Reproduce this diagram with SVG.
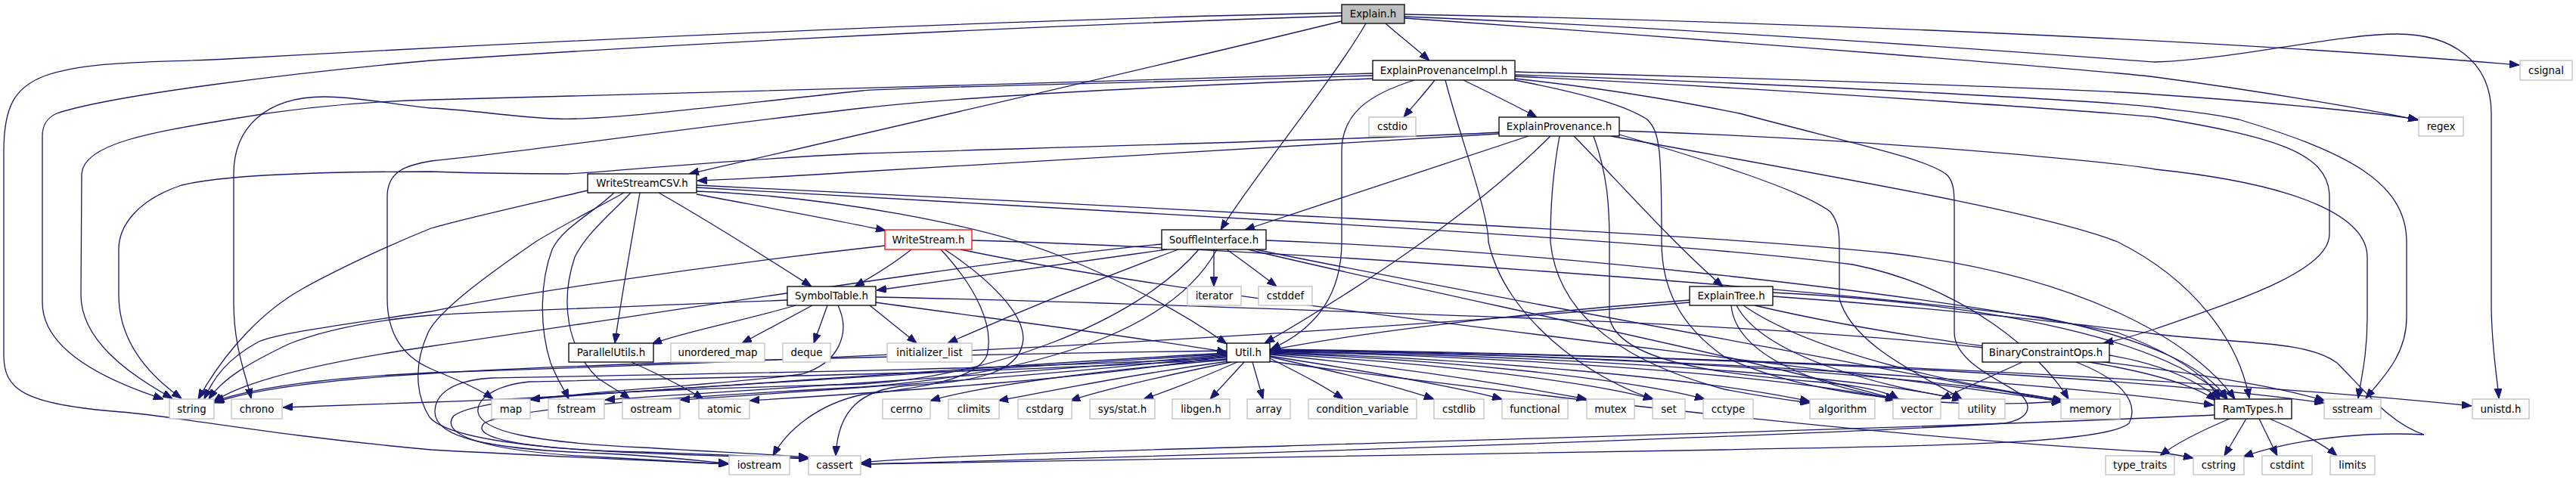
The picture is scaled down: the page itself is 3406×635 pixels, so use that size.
<svg xmlns="http://www.w3.org/2000/svg" width="3406" height="635" viewBox="0 0 3406 635">
<style>
.e path{fill:none;stroke:#191970;stroke-width:1.3;marker-end:url(#ah)}
.n rect{fill:#fff;stroke:#000;stroke-width:1.3}
.s rect{fill:#fff;stroke:#bfbfbf;stroke-width:1.3}
.r rect{fill:#fff;stroke:#ff0000;stroke-width:1.3}
.g rect{fill:#bfbfbf;stroke:#000;stroke-width:1.3}
text{font-family:"DejaVu Sans","Liberation Sans",sans-serif;font-size:13.33px;text-anchor:middle;fill:#000}
</style>
<defs>
<marker id="ah" viewBox="0 0 13 10" refX="13" refY="5" markerWidth="13" markerHeight="10" markerUnits="userSpaceOnUse" orient="auto"><path d="M0,0L13,5L0,10z" fill="#191970" stroke="#191970" stroke-width="1"/></marker>
</defs>
<rect width="3406" height="635" fill="#fff"/>
<g id="edges" class="e">
<path d="M1832,31 C1850,47 1872,64 1890,80"/>
<path d="M1806,31 C1760,110 1660,230 1614,304"/>
<path d="M1774,28 C1500,95 1150,175 911,230"/>
<path d="M1774,17 C1400,24 800,50 300,78 C200,83 120,80 60,100 C20,115 5,140 5,200 L5,470 C5,515 30,535 160,545 C230,550 350,575 570,595 C750,605 900,611 963,614"/>
<path d="M1774,21 C1500,30 1100,45 570,80 C400,95 150,125 75,150 C62,156 56,165 56,180 L56,400 C56,460 130,500 216,528"/>
<path d="M1857,19 C2300,27 2900,50 3331,86"/>
<path d="M1857,22 C2300,40 2750,75 2850,82 C2960,78 3090,45 3170,45 C3240,45 3294,80 3294,150 L3294,400 C3294,460 3302,500 3304,527"/>
<path d="M1857,24 C2300,55 2800,95 2850,102 C3000,122 3150,148 3197,159"/>
<path d="M1897,106 C1885,122 1870,138 1856,155"/>
<path d="M1935,106 C1970,123 2005,140 2032,155"/>
<path d="M1815,97 C1500,105 900,125 570,132 C450,135 350,150 309,157 C200,175 110,190 108,230 L107,390 C107,450 170,495 228,527"/>
<path d="M1815,100 C1500,110 1200,115 1140,120 C950,140 800,160 734,157 C680,155 620,145 570,143 C520,138 470,128 429,128 C350,128 309,170 309,230 L309,400 C309,460 325,495 332,527"/>
<path d="M1815,104 C1500,115 1250,130 1140,143 C900,170 700,200 570,213 C540,218 512,225 512,260 L512,395 C512,450 540,475 570,488 C610,505 635,515 652,528"/>
<path d="M2003,95 C2400,105 2800,120 2850,125 C3000,135 3150,150 3197,158"/>
<path d="M2003,99 C2400,112 2800,135 2850,142 C2900,148 2920,150 2960,158 C3100,200 3182,240 3182,320 L3182,420 C3182,470 3150,500 3128,527"/>
<path d="M2003,101 C2400,120 2800,150 2850,155 C3000,180 3080,200 3080,260 L3080,310 C3080,360 2950,400 2850,435 C2820,445 2800,450 2781,454"/>
<path d="M2003,104 C2150,120 2250,140 2300,150 C2450,190 2550,210 2575,232 C2584,242 2584,255 2584,280 L2584,440 C2584,480 2650,505 2672,522 C2690,540 2680,555 2650,560 C2400,575 1700,600 1139,614"/>
<path d="M2003,106 C2100,125 2150,140 2178,158 C2195,175 2197,200 2197,320 C2197,380 2220,430 2280,472 C2400,530 2600,540 2726,531"/>
<path d="M1870,106 C1810,125 1774,150 1774,200 L1774,320 C1774,400 1730,440 1680,462"/>
<path d="M1911,106 C1930,180 1968,280 1968,320 C1990,420 2100,500 2186,528"/>
<path d="M1982,177 C1850,184 1500,205 1140,227 C1000,236 950,238 922,239"/>
<path d="M1982,175 C1850,183 1400,195 1140,203 C950,212 800,228 750,230 C650,230 600,228 570,227 C450,227 300,230 240,245 C180,265 157,300 157,330 L157,390 C157,450 195,495 240,527"/>
<path d="M2021,180 C1900,220 1750,270 1646,304"/>
<path d="M2050,180 C1950,280 1800,380 1672,454"/>
<path d="M2081,180 C2140,240 2210,320 2278,379"/>
<path d="M2141,173 C2500,185 2800,215 2850,224 C3050,245 3130,290 3130,340 L3130,420 C3130,470 3122,500 3118,527"/>
<path d="M2130,180 C2400,230 2700,280 2800,320 C2900,370 2960,450 2974,527"/>
<path d="M2141,178 C2250,210 2380,250 2420,280 C2432,295 2432,310 2432,330 L2432,395 C2450,460 2550,500 2594,528"/>
<path d="M2062,180 C2055,220 2050,260 2050,320 C2060,420 2150,480 2280,515 C2330,525 2370,530 2393,533"/>
<path d="M2107,180 C2125,230 2128,270 2128,320 L2128,420 C2140,480 2280,495 2400,505 C2460,510 2495,518 2510,528"/>
<path d="M921,257 C1000,272 1100,290 1171,305"/>
<path d="M871,255 C950,300 1020,345 1073,379"/>
<path d="M846,255 C835,320 822,390 813,454"/>
<path d="M777,252 C700,270 610,290 570,302 C500,330 430,365 400,382 C350,410 300,460 262,528"/>
<path d="M825,255 C780,280 740,300 708,320 C650,360 580,410 566,440 C548,480 548,520 568,552 C610,600 900,600 1069,607"/>
<path d="M812,255 C780,285 745,300 730,330 C715,370 712,430 728,480 C738,505 746,515 752,528"/>
<path d="M834,255 C800,290 775,310 760,340 C740,400 750,460 790,500 C808,512 822,520 833,528"/>
<path d="M921,253 C1100,260 1300,298 1400,338 C1500,378 1570,418 1622,455"/>
<path d="M921,245 C1100,252 1500,275 1710,285 C2000,300 2300,315 2500,335 C2750,365 2900,450 2955,528"/>
<path d="M921,248 C1100,257 1500,282 1710,293 C2000,310 2300,330 2450,350 C2600,380 2700,470 2735,528"/>
<path d="M1205,330 C1180,350 1155,365 1130,379"/>
<path d="M1170,325 C900,355 650,395 570,412 C450,430 370,440 342,452 C300,475 282,500 270,528"/>
<path d="M1244,330 C1290,380 1315,430 1305,470 C1290,505 1200,515 1140,522 C1080,535 1040,570 1022,603"/>
<path d="M1249,330 C1310,370 1360,420 1352,455 C1345,490 1300,505 1200,510 C1140,515 1108,540 1105,603"/>
<path d="M1285,318 C1700,330 2400,380 2700,420 C2850,450 2920,490 2945,528"/>
<path d="M1270,330 C1600,400 2300,470 2727,531"/>
<path d="M1605,330 L1605,379"/>
<path d="M1622,330 C1650,350 1670,365 1688,379"/>
<path d="M1558,330 C1450,370 1330,420 1253,454"/>
<path d="M1543,330 C1400,350 1250,372 1159,384"/>
<path d="M1536,323 C1300,345 900,410 570,458 C420,480 320,505 282,532"/>
<path d="M1585,330 C1500,430 1300,500 1140,508 C900,515 640,520 600,550 C580,575 640,598 800,605 C880,609 930,612 963,614"/>
<path d="M1609,330 C1560,420 1420,490 1140,512 C900,525 670,540 640,560 C620,580 700,595 850,598 C950,602 1020,604 1069,606"/>
<path d="M1674,318 C2000,330 2500,380 2800,440 C2880,470 2920,500 2935,528"/>
<path d="M1660,330 C1900,380 2400,470 2726,532"/>
<path d="M1650,330 C1900,390 2300,470 2506,528"/>
<path d="M1052,404 C980,425 900,440 862,455"/>
<path d="M1074,404 L981,454"/>
<path d="M1094,404 L1076,454"/>
<path d="M1150,404 L1212,454"/>
<path d="M1041,397 C850,405 650,412 570,417 C480,425 420,440 382,455 C330,480 295,500 276,528"/>
<path d="M1158,400 C1300,420 1500,445 1622,466"/>
<path d="M1158,393 C1500,400 1700,410 2000,420 C2500,440 2850,470 2930,530"/>
<path d="M1108,404 C1125,440 1110,480 1060,495 C950,510 800,515 701,529"/>
<path d="M835,479 C870,495 905,512 930,528"/>
<path d="M2234,397 C2000,415 1800,440 1680,463"/>
<path d="M2234,400 C1900,430 1300,470 570,493 C420,500 330,515 283,531"/>
<path d="M2289,404 C2295,470 2400,510 2508,528"/>
<path d="M2296,404 C2330,470 2480,510 2594,528"/>
<path d="M2305,404 C2400,470 2600,510 2728,530"/>
<path d="M2320,404 C2600,470 2900,480 3074,530"/>
<path d="M2344,387 C2600,400 2850,440 2945,528"/>
<path d="M2344,392 C2600,410 2800,435 2850,442 C2960,455 3050,450 3090,480 C3130,520 3160,560 3205,575 C3150,572 3050,575 2966,604"/>
<path d="M2674,479 L2566,528"/>
<path d="M2789,470 C2850,480 2900,500 2935,528"/>
<path d="M2745,479 C2800,500 2830,530 2815,560 C2780,590 2500,590 2280,595 C1800,605 1400,610 1139,614"/>
<path d="M2948,554 C2910,570 2875,588 2856,603"/>
<path d="M2970,554 L2941,603"/>
<path d="M2987,554 L3011,603"/>
<path d="M3001,554 C3040,570 3075,590 3090,603"/>
<path d="M2928,549 C2600,565 2000,580 1700,590 C1400,598 1200,605 1139,612"/>
<path d="M1622,476 C1450,490 1300,510 1230,530"/>
<path d="M1624,478 C1500,495 1400,515 1320,530"/>
<path d="M1628,479 C1540,497 1460,515 1415,530"/>
<path d="M1636,479 C1600,495 1550,515 1512,528"/>
<path d="M1645,479 L1600,528"/>
<path d="M1656,479 L1670,528"/>
<path d="M1679,474 C1720,495 1750,510 1776,528"/>
<path d="M1679,472 C1780,495 1850,512 1896,528"/>
<path d="M1679,471 C1800,490 1920,510 1986,528"/>
<path d="M1679,469 C1850,485 2000,510 2098,528"/>
<path d="M1679,468 C1900,480 2100,505 2186,528"/>
<path d="M1679,467 C1900,475 2150,500 2254,528"/>
<path d="M1679,466 C1950,475 2250,500 2393,531"/>
<path d="M1679,465 C2000,472 2350,495 2506,529"/>
<path d="M1679,465 C2050,470 2450,495 2594,529"/>
<path d="M1679,464 C2100,468 2550,495 2727,530"/>
<path d="M1679,463 C2200,470 2700,505 2927,536"/>
<path d="M1679,463 C2250,470 2800,495 3073,533"/>
<path d="M1679,462 C2300,470 2900,500 3268,537"/>
<path d="M1679,478 C2000,520 2500,580 2850,598 C2870,600 2880,602 2900,606"/>
<path d="M1622,464 C1200,470 800,480 570,494 C420,503 330,516 283,533"/>
<path d="M1622,467 C1200,490 800,525 570,532 C480,535 420,537 374,539"/>
<path d="M1622,468 C1300,490 900,512 701,528"/>
<path d="M1622,469 C1350,495 1000,515 800,529"/>
<path d="M1622,470 C1400,497 1100,515 899,529"/>
<path d="M1622,471 C1450,500 1200,517 991,530"/>
<path d="M1622,473 C1300,490 900,495 650,500 C600,503 575,520 575,545 C575,580 650,595 800,600 C880,604 930,610 963,613"/>
<path d="M1622,475 C1300,495 900,500 700,505 C650,510 630,530 632,545 C636,570 700,585 850,592 C950,598 1020,601 1069,605"/>
</g>
<g id="n_explain" class="g"><rect x="1774" y="6" width="83" height="25"/><text x="1815.5" y="23">Explain.h</text></g>
<g id="n_explainprovenanceimpl" class="n"><rect x="1815" y="80" width="188" height="26"/><text x="1909" y="97.5">ExplainProvenanceImpl.h</text></g>
<g id="n_csignal" class="s"><rect x="3332" y="80" width="69" height="26"/><text x="3366.5" y="97.5">csignal</text></g>
<g id="n_cstdio" class="s"><rect x="1810" y="155" width="62" height="25"/><text x="1841" y="172">cstdio</text></g>
<g id="n_explainprovenance" class="n"><rect x="1982" y="155" width="159" height="25"/><text x="2061.5" y="172">ExplainProvenance.h</text></g>
<g id="n_regex" class="s"><rect x="3198" y="155" width="59" height="25"/><text x="3227.5" y="172">regex</text></g>
<g id="n_writestreamcsv" class="n"><rect x="777" y="230" width="144" height="25"/><text x="849" y="247">WriteStreamCSV.h</text></g>
<g id="n_writestream" class="r"><rect x="1170" y="304" width="115" height="26"/><text x="1227.5" y="321.5">WriteStream.h</text></g>
<g id="n_souffleinterface" class="n"><rect x="1536" y="304" width="138" height="26"/><text x="1605" y="321.5">SouffleInterface.h</text></g>
<g id="n_symboltable" class="n"><rect x="1041" y="379" width="117" height="25"/><text x="1099.5" y="396">SymbolTable.h</text></g>
<g id="n_iterator" class="s"><rect x="1570" y="379" width="71" height="25"/><text x="1605.5" y="396">iterator</text></g>
<g id="n_cstddef" class="s"><rect x="1664" y="379" width="71" height="25"/><text x="1699.5" y="396">cstddef</text></g>
<g id="n_explaintree" class="n"><rect x="2234" y="379" width="110" height="25"/><text x="2289" y="396">ExplainTree.h</text></g>
<g id="n_parallelutils" class="n"><rect x="752" y="454" width="112" height="25"/><text x="808" y="471">ParallelUtils.h</text></g>
<g id="n_unordered_map" class="s"><rect x="887" y="454" width="124" height="25"/><text x="949" y="471">unordered_map</text></g>
<g id="n_deque" class="s"><rect x="1035" y="454" width="63" height="25"/><text x="1066.5" y="471">deque</text></g>
<g id="n_initializer_list" class="s"><rect x="1173" y="454" width="112" height="25"/><text x="1229" y="471">initializer_list</text></g>
<g id="n_util" class="n"><rect x="1622" y="454" width="57" height="25"/><text x="1650.5" y="471">Util.h</text></g>
<g id="n_binaryconstraintops" class="n"><rect x="2621" y="454" width="168" height="25"/><text x="2705" y="471">BinaryConstraintOps.h</text></g>
<g id="n_string" class="s"><rect x="224" y="528" width="59" height="26"/><text x="253.5" y="545.5">string</text></g>
<g id="n_chrono" class="s"><rect x="306" y="528" width="67" height="26"/><text x="339.5" y="545.5">chrono</text></g>
<g id="n_map" class="s"><rect x="650" y="528" width="51" height="26"/><text x="675.5" y="545.5">map</text></g>
<g id="n_fstream" class="s"><rect x="725" y="528" width="74" height="26"/><text x="762" y="545.5">fstream</text></g>
<g id="n_ostream" class="s"><rect x="823" y="528" width="76" height="26"/><text x="861" y="545.5">ostream</text></g>
<g id="n_atomic" class="s"><rect x="924" y="528" width="67" height="26"/><text x="957.5" y="545.5">atomic</text></g>
<g id="n_cerrno" class="s"><rect x="1167" y="528" width="63" height="26"/><text x="1198.5" y="545.5">cerrno</text></g>
<g id="n_climits" class="s"><rect x="1254" y="528" width="67" height="26"/><text x="1287.5" y="545.5">climits</text></g>
<g id="n_cstdarg" class="s"><rect x="1346" y="528" width="71" height="26"/><text x="1381.5" y="545.5">cstdarg</text></g>
<g id="n_sys_stat" class="s"><rect x="1441" y="528" width="86" height="26"/><text x="1484" y="545.5">sys/stat.h</text></g>
<g id="n_libgen" class="s"><rect x="1550" y="528" width="76" height="26"/><text x="1588" y="545.5">libgen.h</text></g>
<g id="n_array" class="s"><rect x="1649" y="528" width="57" height="26"/><text x="1677.5" y="545.5">array</text></g>
<g id="n_condition_variable" class="s"><rect x="1730" y="528" width="143" height="26"/><text x="1801.5" y="545.5">condition_variable</text></g>
<g id="n_cstdlib" class="s"><rect x="1896" y="528" width="66" height="26"/><text x="1929" y="545.5">cstdlib</text></g>
<g id="n_functional" class="s"><rect x="1986" y="528" width="87" height="26"/><text x="2029.5" y="545.5">functional</text></g>
<g id="n_mutex" class="s"><rect x="2098" y="528" width="63" height="26"/><text x="2129.5" y="545.5">mutex</text></g>
<g id="n_set" class="s"><rect x="2185" y="528" width="43" height="26"/><text x="2206.5" y="545.5">set</text></g>
<g id="n_cctype" class="s"><rect x="2252" y="528" width="66" height="26"/><text x="2285" y="545.5">cctype</text></g>
<g id="n_algorithm" class="s"><rect x="2393" y="528" width="86" height="26"/><text x="2436" y="545.5">algorithm</text></g>
<g id="n_vector" class="s"><rect x="2503" y="528" width="63" height="26"/><text x="2534.5" y="545.5">vector</text></g>
<g id="n_utility" class="s"><rect x="2590" y="528" width="61" height="26"/><text x="2620.5" y="545.5">utility</text></g>
<g id="n_memory" class="s"><rect x="2725" y="528" width="78" height="26"/><text x="2764" y="545.5">memory</text></g>
<g id="n_ramtypes" class="n"><rect x="2928" y="528" width="102" height="26"/><text x="2979" y="545.5">RamTypes.h</text></g>
<g id="n_sstream" class="s"><rect x="3073" y="528" width="75" height="26"/><text x="3110.5" y="545.5">sstream</text></g>
<g id="n_unistd" class="s"><rect x="3269" y="528" width="75" height="26"/><text x="3306.5" y="545.5">unistd.h</text></g>
<g id="n_iostream" class="s"><rect x="964" y="603" width="80" height="25"/><text x="1004" y="620">iostream</text></g>
<g id="n_cassert" class="s"><rect x="1069" y="603" width="69" height="25"/><text x="1103.5" y="620">cassert</text></g>
<g id="n_type_traits" class="s"><rect x="2784" y="603" width="91" height="25"/><text x="2829.5" y="620">type_traits</text></g>
<g id="n_cstring" class="s"><rect x="2900" y="603" width="67" height="25"/><text x="2933.5" y="620">cstring</text></g>
<g id="n_cstdint" class="s"><rect x="2991" y="603" width="66" height="25"/><text x="3024" y="620">cstdint</text></g>
<g id="n_limits" class="s"><rect x="3081" y="603" width="59" height="25"/><text x="3110.5" y="620">limits</text></g>
</svg>
